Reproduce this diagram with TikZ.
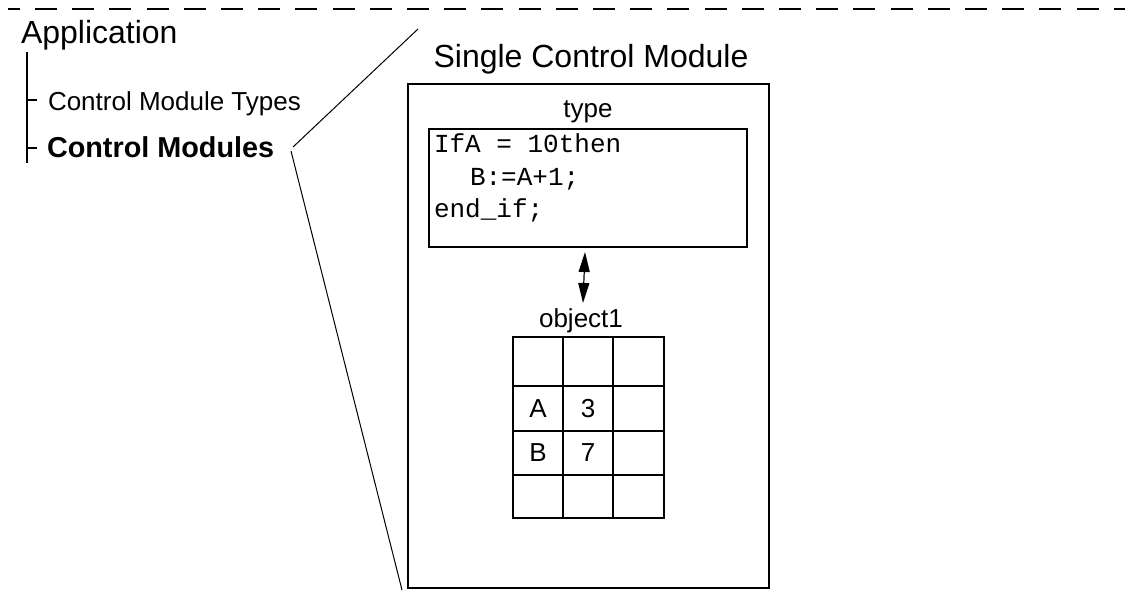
\documentclass[tikz,border=0pt]{standalone}
\usepackage{fontspec}
\setmainfont{Liberation Sans}
\newfontfamily\codefont{Liberation Mono}
\usetikzlibrary{arrows.meta}
\begin{document}
\begin{tikzpicture}[x=1pt,y=-1pt,
  txt/.style={inner sep=0pt,outer sep=0pt},
  big/.style={txt,font=\fontsize{32}{38}\selectfont},
  mid/.style={txt,font=\fontsize{26}{31}\selectfont},
  code/.style={txt,font=\codefont\fontsize{26}{31}\selectfont},
  thickbox/.style={draw,line width=2pt},
  thinline/.style={line width=1pt},
  treeline/.style={line width=1.6pt}]
\useasboundingbox (0,0) rectangle (1125,590);
% dashed separator
\coordinate (dl) at (8,9);
\coordinate (dr) at (1125,9);
\draw[line width=2.2pt,dash pattern=on 21.9pt off 15.3pt,dash phase=10.2pt] (dl) -- (dr);
% tree
\node[big,anchor=base west] (app) at (21,43) {Application};
\node[mid,anchor=base west] (cmt) at (48,110) {Control Module Types};
\node[txt,font=\fontsize{28.8}{34}\selectfont\bfseries,anchor=base west] (cm) at (47,157) {Control Modules};
\coordinate (t0) at (27,52);
\coordinate (t1) at (27,163);
\coordinate (b1) at (27,100);
\coordinate (b1e) at (37,100);
\coordinate (b2) at (27,148);
\coordinate (b2e) at (37,148);
\draw[treeline] (t0) -- (t1);
\draw[treeline] (b1) -- (b1e);
\draw[treeline] (b2) -- (b2e);
% zoom lines
\coordinate (cmu) at (293,147);
\coordinate (cml) at (291,151);
\coordinate (zt) at (418,29);
\coordinate (zb) at (402,590);
\draw[thinline] (cmu) -- (zt);
\draw[thinline] (cml) -- (zb);
% single control module
\node[big,anchor=base] (title) at (591,67) {Single Control Module};
\node[thickbox,minimum width=361pt,minimum height=504pt,inner sep=0pt] (outer) at (588.5,336) {};
\node[mid,anchor=base] (type) at (588,117) {type};
\node[thickbox,minimum width=318pt,minimum height=118pt,inner sep=0pt] (codebox) at (588,188) {};
\node[code,anchor=base west] (c1) at (434,152) {IfA = 10then};
\node[code,anchor=base west] (c2) at (470,185) {B:=A+1;};
\node[code,anchor=base west] (c3) at (434,217) {end\_if;};
% arrow
\coordinate (at) at (585,252);
\coordinate (ab) at (583,303);
\draw[line width=1.2pt,{Triangle[length=20pt,width=11pt]}-{Triangle[length=20pt,width=11pt]}] (at) -- (ab);
% object
\node[mid,anchor=base] (obj) at (581,327) {object1};
\node[thickbox,minimum width=151pt,minimum height=181pt,inner sep=0pt] (tab) at (588.5,427.5) {};
\draw[line width=2pt] (563,337) -- (563,518);
\draw[line width=2pt] (613,337) -- (613,518);
\draw[line width=2pt] (513,386) -- (664,386);
\draw[line width=2pt] (513,431) -- (664,431);
\draw[line width=2pt] (513,475) -- (664,475);
\node[mid,anchor=base] (ca) at (538,417) {A};
\node[mid,anchor=base] (c3v) at (588,417) {3};
\node[mid,anchor=base] (cb) at (538,461) {B};
\node[mid,anchor=base] (c7v) at (588,461) {7};
\end{tikzpicture}
\end{document}
